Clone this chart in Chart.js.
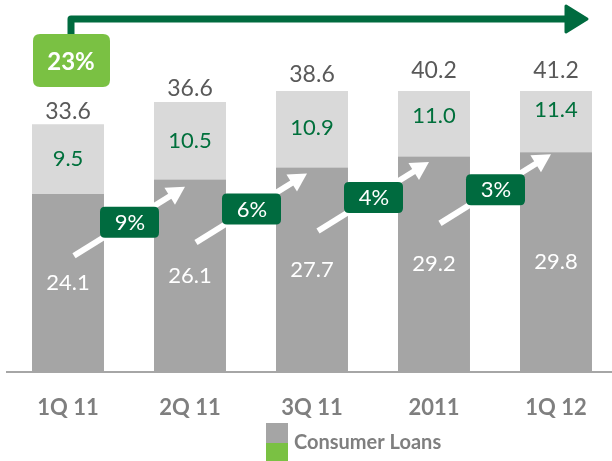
<!DOCTYPE html>
<html>
<head>
<meta charset="utf-8">
<title>Consumer Loans</title>
<script src="https://cdn.jsdelivr.net/npm/chart.js@4.4.1/dist/chart.umd.min.js"></script>
<style>
      html, body { margin: 0; padding: 0; background: #ffffff; overflow: hidden; }
      #wrap { width: 620px; height: 461px; }
</style>
</head>
<body>
<div id="wrap"><canvas id="loans_chart" width="620" height="461"></canvas></div>
<script>
const labels = ['1Q 11', '2Q 11', '3Q 11', '2011', '1Q 12'];
const base_values = [24.1, 26.1, 27.7, 29.2, 29.8];
const consumer_values = [9.5, 10.5, 10.9, 11.0, 11.4];
const totals = [33.6, 36.6, 38.6, 40.2, 41.2];
const growth = ['9%', '6%', '4%', '3%'];
const total_growth = '23%';
const legend_text = 'Consumer Loans';

const DARK_GREEN = '#006b3f';
const LIGHT_GREEN = '#7ac143';

function roundBox(ctx, x, y, w, h, r)
{
      ctx.beginPath();
      ctx.moveTo(x + r, y);
      ctx.lineTo(x + w - r, y);
      ctx.quadraticCurveTo(x + w, y, x + w, y + r);
      ctx.lineTo(x + w, y + h - r);
      ctx.quadraticCurveTo(x + w, y + h, x + w - r, y + h);
      ctx.lineTo(x + r, y + h);
      ctx.quadraticCurveTo(x, y + h, x, y + h - r);
      ctx.lineTo(x, y + r);
      ctx.quadraticCurveTo(x, y, x + r, y);
      ctx.closePath();
}

const overlay_plugin = {
      id: 'overlay',
      afterDatasetsDraw: function (chart)
      {
            const ctx = chart.ctx;
            const xs = chart.scales.x;
            const ys = chart.scales.y;
            const area = chart.chartArea;

            ctx.save();
            ctx.textAlign = 'center';
            ctx.textBaseline = 'middle';

            // segment values and totals
            for (let i = 0; i < labels.length; i++)
            {
                  const cx = xs.getPixelForValue(i);
                  const y0 = ys.getPixelForValue(0);
                  const y1 = ys.getPixelForValue(base_values[i]);
                  const y2 = ys.getPixelForValue(base_values[i] + consumer_values[i]);

                  ctx.font = '22px Lato';
                  ctx.fillStyle = '#ffffff';
                  ctx.fillText(base_values[i].toFixed(1), cx, (y0 + y1) / 2);
                  ctx.fillStyle = '#00703c';
                  ctx.fillText(consumer_values[i].toFixed(1), cx, (y1 + y2) / 2);

                  ctx.font = '23px Lato';
                  ctx.fillStyle = '#595959';
                  const ty = Math.max(ys.getPixelForValue(totals[i]) - 13, area.top - 20);
                  ctx.fillText(totals[i].toFixed(1), cx, ty);
            }

            // growth arrows between bars
            for (let i = 0; i < growth.length; i++)
            {
                  const gx = (xs.getPixelForValue(i) + xs.getPixelForValue(i + 1)) / 2;
                  const gy = (ys.getPixelForValue(base_values[i]) + ys.getPixelForValue(base_values[i + 1])) / 2 + 35;
                  const sx = gx - 55, sy = gy + 34;
                  const ex = gx + 56, ey = gy - 35;
                  const len = Math.hypot(ex - sx, ey - sy);
                  const ux = (ex - sx) / len, uy = (ey - sy) / len;
                  const head = 18;
                  const bx = ex - ux * head, by = ey - uy * head;

                  ctx.strokeStyle = '#ffffff';
                  ctx.lineWidth = 6;
                  ctx.lineCap = 'butt';
                  ctx.beginPath();
                  ctx.moveTo(sx, sy);
                  ctx.lineTo(bx + ux * 2, by + uy * 2);
                  ctx.stroke();

                  ctx.fillStyle = '#ffffff';
                  ctx.beginPath();
                  ctx.moveTo(ex, ey);
                  ctx.lineTo(bx - uy * 10, by + ux * 10);
                  ctx.lineTo(bx + uy * 10, by - ux * 10);
                  ctx.closePath();
                  ctx.fill();

                  ctx.fillStyle = DARK_GREEN;
                  roundBox(ctx, gx - 29, gy - 15, 59, 31, 5);
                  ctx.fill();

                  ctx.fillStyle = '#ffffff';
                  ctx.font = '22px Lato';
                  ctx.fillText(growth[i], gx + 1, gy + 1);
            }

            // overall growth box and long arrow
            const fx = xs.getPixelForValue(0) + 3;
            const lx = xs.getPixelForValue(labels.length - 1);

            ctx.strokeStyle = DARK_GREEN;
            ctx.lineWidth = 7;
            ctx.lineJoin = 'round';
            ctx.beginPath();
            ctx.moveTo(fx, 40);
            ctx.lineTo(fx, 19);
            ctx.lineTo(lx + 12, 19);
            ctx.stroke();

            ctx.fillStyle = DARK_GREEN;
            ctx.lineWidth = 3;
            ctx.beginPath();
            ctx.moveTo(lx + 10, 6);
            ctx.lineTo(lx + 31, 19);
            ctx.lineTo(lx + 10, 32);
            ctx.closePath();
            ctx.fill();
            ctx.stroke();

            ctx.fillStyle = LIGHT_GREEN;
            roundBox(ctx, fx - 38, 34, 77, 53, 7);
            ctx.fill();
            ctx.fillStyle = '#ffffff';
            ctx.font = 'bold 24px Lato';
            ctx.fillText(total_growth, fx, 62);

            // legend
            const lgx = chart.width / 2 - 44;
            ctx.fillStyle = '#a5a5a5';
            ctx.fillRect(lgx, 423, 22, 20);
            ctx.fillStyle = LIGHT_GREEN;
            ctx.fillRect(lgx, 443, 22, 20);
            ctx.textAlign = 'left';
            ctx.fillStyle = '#7f7f7f';
            ctx.font = 'bold 20px Lato';
            ctx.fillText(legend_text, lgx + 28, 443);

            ctx.restore();
      }
};

const config = {
      type: 'bar',
      data: {
            labels: labels,
            datasets: [{
                  label: 'Loans',
                  data: base_values,
                  backgroundColor: '#a5a5a5',
                  borderWidth: 0,
                  barPercentage: 0.59,
                  categoryPercentage: 1
            }, {
                  label: legend_text,
                  data: consumer_values,
                  backgroundColor: '#d9d9d9',
                  borderWidth: 0,
                  barPercentage: 0.59,
                  categoryPercentage: 1
            }]
      },
      options: {
            responsive: false,
            animation: false,
            layout: {
                  padding: { top: 91, left: 7, right: 3, bottom: 17 }
            },
            scales: {
                  x: {
                        stacked: true,
                        grid: { display: false, drawTicks: false, tickLength: 0 },
                        border: { display: true, color: '#a6a6a6', width: 2 },
                        ticks: {
                              padding: 23,
                              color: '#7f7f7f',
                              font: { family: 'Lato', size: 22, weight: 'bold' }
                        }
                  },
                  y: {
                        stacked: true,
                        display: false,
                        min: 0,
                        max: 38.1
                  }
            },
            plugins: {
                  legend: { display: false },
                  tooltip: { enabled: false }
            }
      },
      plugins: [overlay_plugin]
};

new Chart(document.getElementById('loans_chart'), config);
</script>
</body>
</html>
